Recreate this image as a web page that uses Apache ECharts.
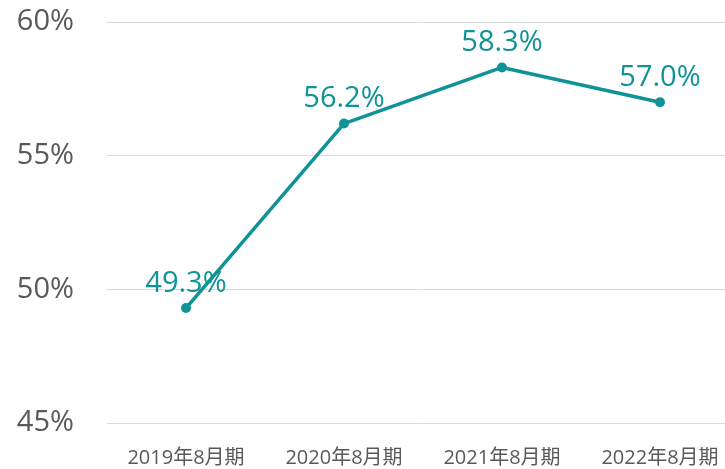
<!DOCTYPE html>
<html>
<head>
<meta charset="utf-8">
<script src="https://cdn.jsdelivr.net/npm/echarts@6/dist/echarts.min.js"></script>
<style>
    html, body { margin: 0; padding: 0; background: #fff; }
    #main { width: 725px; height: 469px; }
</style>
</head>
<body>
<div id="main"></div>
<script>
    // 数据
    const periods = ['2019年8月期', '2020年8月期', '2021年8月期', '2022年8月期']
    const ratios = [49.3, 56.2, 58.3, 57.0]
    const yMin = 45
    const yMax = 60
    const yStep = 5

    const font = '"Open Sans", "Noto Sans CJK SC", sans-serif'
    const teal = '#0f9396'
    const chart = echarts.init(document.getElementById('main'))
    const option = {
        animation: false,
        grid: {
            left: 107,
            top: 22,
            width: 632,
            height: 401,
            containLabel: false,
            outerBoundsMode: 'none'
        },
        xAxis: {
            type: 'category',
            data: periods,
            boundaryGap: true,
            axisLine: { show: false },
            axisTick: { show: false },
            axisLabel: {
                color: '#595959',
                fontSize: 20,
                fontFamily: font,
                margin: 25
            }
        },
        yAxis: {
            type: 'value',
            min: yMin,
            max: yMax,
            interval: yStep,
            axisLine: { show: false },
            axisTick: { show: false },
            splitLine: { lineStyle: { color: '#d9d9d9', width: 1 } },
            axisLabel: {
                color: '#595959',
                fontSize: 29,
                fontFamily: font,
                margin: 33,
                formatter: v => v + '%'
            }
        },
        series: [
            {
                type: 'line',
                data: ratios,
                symbol: 'circle',
                symbolSize: 10,
                lineStyle: { color: teal, width: 3.5 },
                itemStyle: { color: teal },
                label: {
                    show: true,
                    position: 'top',
                    distance: 5,
                    color: teal,
                    fontSize: 29,
                    fontFamily: font,
                    formatter: p => p.value.toFixed(1) + '%'
                }
            }
        ]
    }
    chart.setOption(option)
</script>
</body>
</html>
